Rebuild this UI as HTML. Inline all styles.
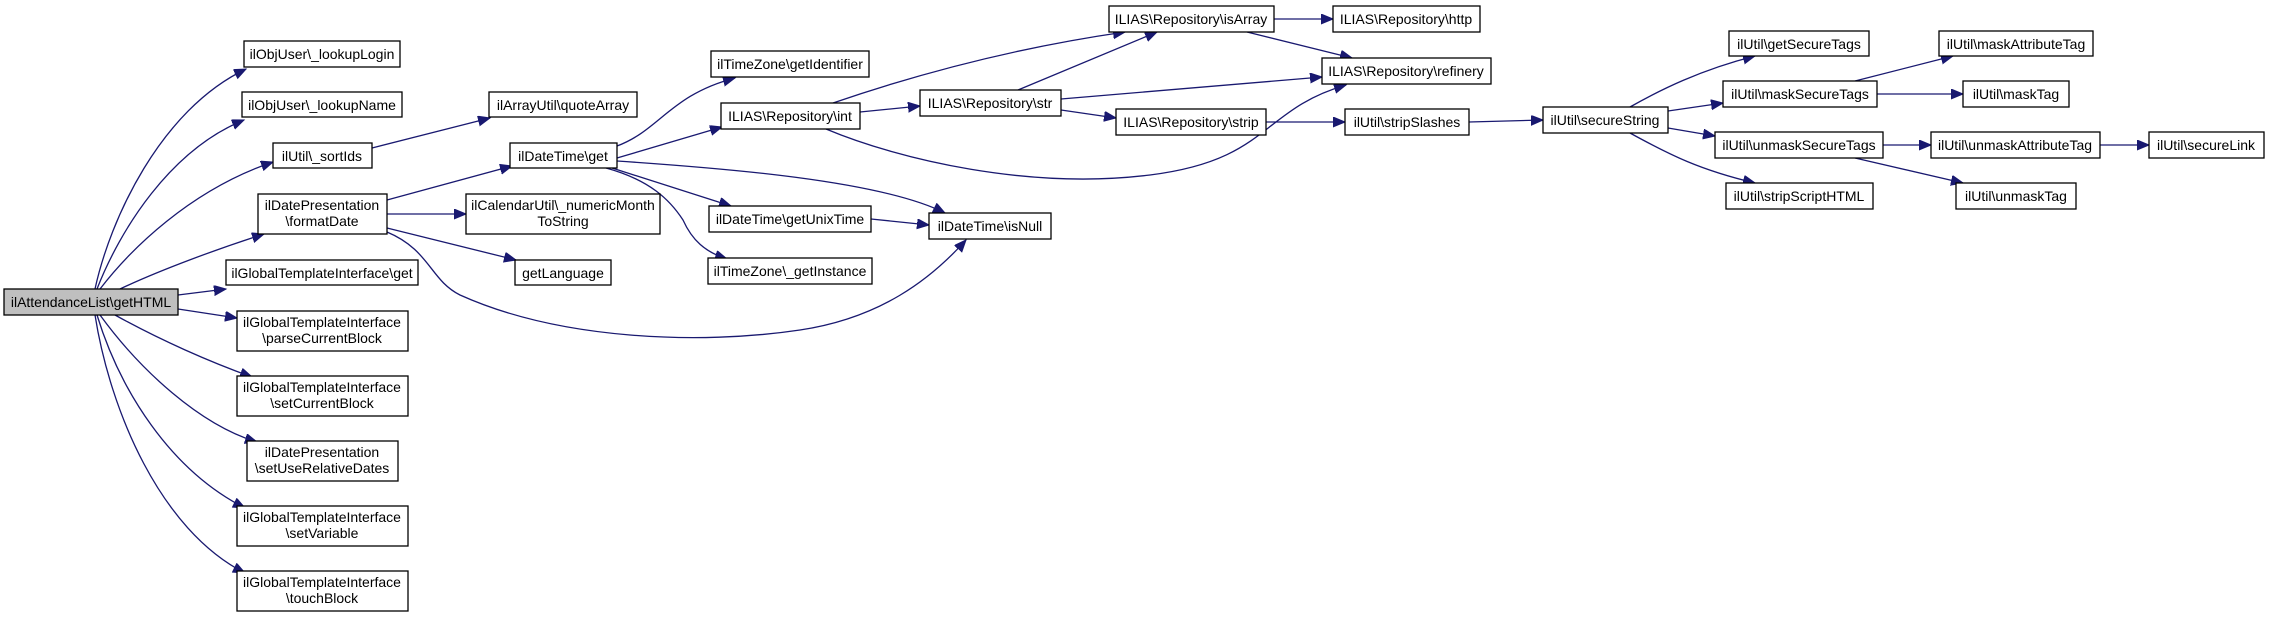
<!DOCTYPE html>
<html><head><meta charset="utf-8"><style>
html,body{margin:0;padding:0;background:#fff;}
svg{display:block;}
text{font-family:"Liberation Sans",Arial,sans-serif;font-size:14px;fill:#000;}
</style></head><body>
<svg width="2269" height="619" viewBox="0 0 2269 619" xmlns="http://www.w3.org/2000/svg">
<defs>
<marker id="a" markerUnits="userSpaceOnUse" markerWidth="14" markerHeight="12" refX="12" refY="5" orient="auto">
<path d="M0,0 L12,5 L0,10 Z" fill="#191970" stroke="#191970"/>
</marker>
</defs>
<g fill="none" stroke="#191970" stroke-width="1.3" marker-end="url(#a)">
<path d="M95,289 C110,220 160,110 246,69"/>
<path d="M97,289 C120,230 170,150 244,120"/>
<path d="M100,289 C130,250 190,190 273,162"/>
<path d="M120,289 C160,270 220,248 264,234"/>
<path d="M178,295 L226,289"/>
<path d="M178,309 L237,318"/>
<path d="M115,315 C160,340 210,362 252,377"/>
<path d="M100,315 C140,370 200,425 257,442"/>
<path d="M97,315 C120,390 170,470 245,508"/>
<path d="M95,315 C110,410 160,530 245,573"/>
<path d="M372,148 L490,118"/>
<path d="M387,200 L512,166"/>
<path d="M387,214 L466,214"/>
<path d="M387,228 L516,260"/>
<path d="M387,232 C430,250 430,280 460,295 C560,340 700,345 800,330 C880,318 930,280 966,240"/>
<path d="M617,146 C660,130 670,95 735,78"/>
<path d="M617,158 L722,127"/>
<path d="M617,161 C720,168 880,180 945,213"/>
<path d="M612,168 L731,206"/>
<path d="M606,168 C650,180 670,200 683,220 C692,240 705,252 727,259"/>
<path d="M871,219 L929,225"/>
<path d="M860,112 L920,106"/>
<path d="M833,103 C900,80 1000,50 1125,32"/>
<path d="M826,129 C900,160 1030,190 1150,175 C1270,160 1260,110 1346,85"/>
<path d="M1018,90 L1157,32"/>
<path d="M1061,99 L1322,77"/>
<path d="M1061,110 L1116,118"/>
<path d="M1274,19 L1333,19"/>
<path d="M1247,32 L1352,58"/>
<path d="M1266,122 L1345,122"/>
<path d="M1469,122 L1543,120"/>
<path d="M1630,107 C1660,90 1700,70 1755,56"/>
<path d="M1668,111 L1723,103"/>
<path d="M1668,128 L1715,136"/>
<path d="M1630,133 C1670,155 1700,170 1755,183"/>
<path d="M1855,81 L1953,56"/>
<path d="M1877,94 L1963,94"/>
<path d="M1883,145 L1931,145"/>
<path d="M1855,158 L1963,183"/>
<path d="M2100,145 L2149,145"/>
</g>
<g stroke="#000" stroke-width="1.3" fill="#fff">
<rect x="4" y="289" width="174" height="26" fill="#bfbfbf"/>
<rect x="244" y="41" width="156" height="26"/>
<rect x="242" y="92" width="160" height="25"/>
<rect x="273" y="143" width="99" height="25"/>
<rect x="258" y="194" width="129" height="40"/>
<rect x="226" y="260" width="192" height="25"/>
<rect x="237" y="311" width="171" height="40"/>
<rect x="237" y="376" width="171" height="40"/>
<rect x="247" y="441" width="151" height="40"/>
<rect x="237" y="506" width="171" height="40"/>
<rect x="237" y="571" width="171" height="40"/>
<rect x="489" y="92" width="148" height="25"/>
<rect x="510" y="143" width="107" height="25"/>
<rect x="466" y="194" width="194" height="40"/>
<rect x="515" y="260" width="96" height="25"/>
<rect x="711" y="51" width="158" height="26"/>
<rect x="721" y="103" width="139" height="26"/>
<rect x="920" y="90" width="141" height="26"/>
<rect x="1109" y="6" width="165" height="26"/>
<rect x="1333" y="6" width="147" height="26"/>
<rect x="1322" y="58" width="169" height="26"/>
<rect x="1116" y="109" width="150" height="26"/>
<rect x="1345" y="109" width="124" height="26"/>
<rect x="709" y="206" width="162" height="26"/>
<rect x="929" y="213" width="122" height="26"/>
<rect x="708" y="258" width="164" height="26"/>
<rect x="1543" y="107" width="125" height="26"/>
<rect x="1729" y="31" width="140" height="25"/>
<rect x="1723" y="81" width="154" height="26"/>
<rect x="1939" y="31" width="154" height="25"/>
<rect x="1963" y="81" width="106" height="26"/>
<rect x="1715" y="132" width="168" height="26"/>
<rect x="1931" y="132" width="169" height="26"/>
<rect x="2149" y="132" width="115" height="26"/>
<rect x="1726" y="183" width="147" height="26"/>
<rect x="1956" y="183" width="120" height="26"/>
</g>
<g text-anchor="middle">
<text x="91" y="307">ilAttendanceList\getHTML</text>
<text x="322" y="59">ilObjUser\_lookupLogin</text>
<text x="322" y="110">ilObjUser\_lookupName</text>
<text x="322" y="161">ilUtil\_sortIds</text>
<text x="322" y="210">ilDatePresentation</text>
<text x="322" y="226">\formatDate</text>
<text x="322" y="278">ilGlobalTemplateInterface\get</text>
<text x="322" y="327">ilGlobalTemplateInterface</text>
<text x="322" y="343">\parseCurrentBlock</text>
<text x="322" y="392">ilGlobalTemplateInterface</text>
<text x="322" y="408">\setCurrentBlock</text>
<text x="322" y="457">ilDatePresentation</text>
<text x="322" y="473">\setUseRelativeDates</text>
<text x="322" y="522">ilGlobalTemplateInterface</text>
<text x="322" y="538">\setVariable</text>
<text x="322" y="587">ilGlobalTemplateInterface</text>
<text x="322" y="603">\touchBlock</text>
<text x="563" y="110">ilArrayUtil\quoteArray</text>
<text x="563" y="161">ilDateTime\get</text>
<text x="563" y="210">ilCalendarUtil\_numericMonth</text>
<text x="563" y="226">ToString</text>
<text x="563" y="278">getLanguage</text>
<text x="790" y="69">ilTimeZone\getIdentifier</text>
<text x="790" y="121">ILIAS\Repository\int</text>
<text x="990" y="108">ILIAS\Repository\str</text>
<text x="1191" y="24">ILIAS\Repository\isArray</text>
<text x="1406" y="24">ILIAS\Repository\http</text>
<text x="1406" y="76">ILIAS\Repository\refinery</text>
<text x="1191" y="127">ILIAS\Repository\strip</text>
<text x="1407" y="127">ilUtil\stripSlashes</text>
<text x="790" y="224">ilDateTime\getUnixTime</text>
<text x="990" y="231">ilDateTime\isNull</text>
<text x="790" y="276">ilTimeZone\_getInstance</text>
<text x="1605" y="125">ilUtil\secureString</text>
<text x="1799" y="49">ilUtil\getSecureTags</text>
<text x="1800" y="99">ilUtil\maskSecureTags</text>
<text x="2016" y="49">ilUtil\maskAttributeTag</text>
<text x="2016" y="99">ilUtil\maskTag</text>
<text x="1799" y="150">ilUtil\unmaskSecureTags</text>
<text x="2015" y="150">ilUtil\unmaskAttributeTag</text>
<text x="2206" y="150">ilUtil\secureLink</text>
<text x="1799" y="201">ilUtil\stripScriptHTML</text>
<text x="2016" y="201">ilUtil\unmaskTag</text>
</g>
</svg>
</body></html>
